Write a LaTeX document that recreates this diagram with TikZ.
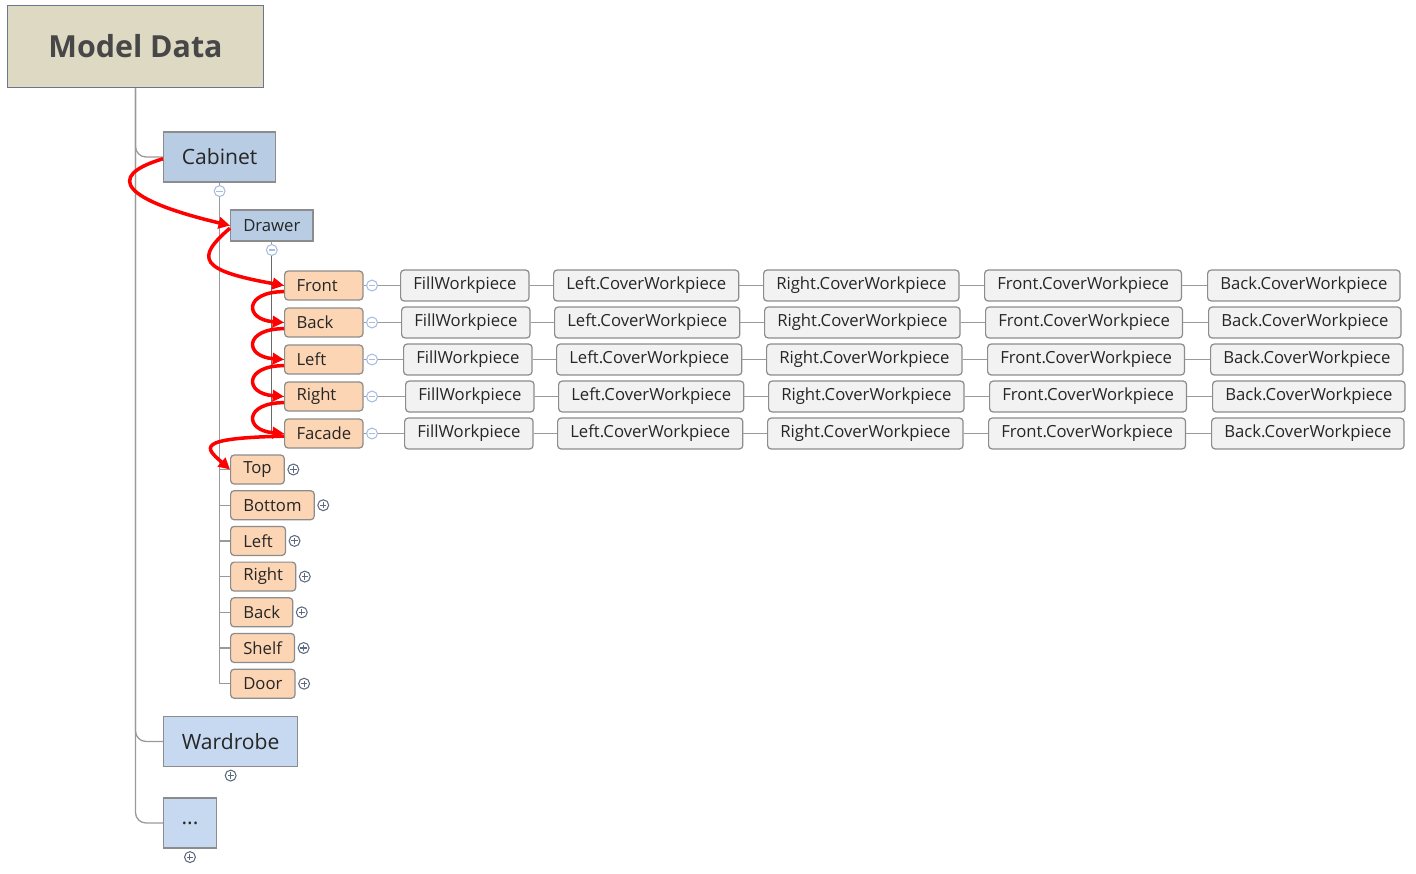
\documentclass[tikz,border=0pt]{standalone}
\usepackage{fontspec}
\setmainfont{Open Sans}
\usetikzlibrary{positioning,arrows.meta}
\definecolor{rootfill}{HTML}{DDD9C3}
\definecolor{rootline}{HTML}{6A7690}
\definecolor{cabfill}{HTML}{B8CCE4}
\definecolor{wardfill}{HTML}{C6D9F0}
\definecolor{partfill}{HTML}{FCD5B4}
\definecolor{workfill}{HTML}{F2F2F2}
\definecolor{boxline}{HTML}{8C8C8C}
\definecolor{treeline}{HTML}{9A9A9A}
\definecolor{darkline}{HTML}{6A6A6A}
\definecolor{foldline}{HTML}{A9BCE0}
\definecolor{unfoldline}{HTML}{5E6A80}
\definecolor{ink}{HTML}{262626}
\newcommand{\partfont}{\fontsize{9.5}{11}\selectfont}
\tikzstyle{root}=[draw=rootline,fill=rootfill,line width=0.8pt,minimum width=145.7pt,minimum height=47pt,font=\fontsize{17.3}{20}\selectfont\bfseries,text=ink!85]
\tikzstyle{group}=[draw=boxline,fill=cabfill,line width=0.7pt,minimum height=28.5pt,inner xsep=10.4pt,font=\fontsize{12}{14}\selectfont,text=ink]
\tikzstyle{sub}=[draw=boxline,fill=cabfill,line width=0.7pt,minimum height=17.6pt,inner xsep=7.2pt,font=\partfont,text=ink]
\tikzstyle{part}=[draw=boxline,fill=partfill,line width=0.7pt,rounded corners=2pt,minimum height=16.5pt,inner xsep=7.2pt,font=\partfont,text=ink]
\tikzstyle{rowpart}=[part,text width=31pt,inner xsep=6.8pt,align=left]
\tikzstyle{work}=[draw=boxline,fill=workfill,line width=0.7pt,rounded corners=2pt,minimum height=17.6pt,inner xsep=7.2pt,font=\partfont,text=ink]
\tikzstyle{tree}=[draw=treeline,line width=0.75pt]
\tikzstyle{flow}=[draw=red,line width=2pt,-{Triangle[length=6.5pt,width=6.5pt]}]
\tikzstyle{fold}=[circle,draw=foldline,fill=white,line width=0.6pt,minimum size=6.2pt,inner sep=0pt,
  path picture={\draw[foldline,line width=0.6pt] ([xshift=-1.8pt]path picture bounding box.center) -- ([xshift=1.8pt]path picture bounding box.center);}]
\tikzstyle{unfold}=[circle,draw=unfoldline,fill=white,line width=0.6pt,minimum size=6.2pt,inner sep=0pt,
  path picture={\draw[unfoldline,line width=0.6pt] ([xshift=-1.8pt]path picture bounding box.center) -- ([xshift=1.8pt]path picture bounding box.center)
    ([yshift=-1.8pt]path picture bounding box.center) -- ([yshift=1.8pt]path picture bounding box.center);}]

\begin{document}
\begin{tikzpicture}[x=0.02cm,y=-0.02cm]
    \useasboundingbox (0,0) rectangle (1416,873);
    % main branch
    \node[root] (model) at (135.5,46.5) {Model Data};
    \node[group,anchor=west] (cabinet) at (163,157) {Cabinet};
    \node[fold,below=1.4pt of cabinet] (cabbtn) {};
    \node[sub,anchor=west] (drawer) at (230,225.5) {Drawer};
    \node[fold,below=1.4pt of drawer] (drawbtn) {};
    \node[group,fill=wardfill,anchor=west] (wardrobe) at (163,741.5) {Wardrobe};
    \node[unfold,below=1.4pt of wardrobe] (wardbtn) {};
    \node[group,fill=wardfill,minimum width=30pt,inner xsep=4pt,anchor=west] (more) at (163,823) {...};
    \node[unfold,below=1.4pt of more] (morebtn) {};
    \path[tree,rounded corners=6pt] (model.south) |- (cabinet.west);
    \path[tree,rounded corners=6pt] (model.south) |- (wardrobe.west);
    \path[tree,rounded corners=6pt] (model.south) |- (more.west);
    \path[tree] (cabinet) -- (cabbtn);
    \path[tree] (cabbtn.south) |- (drawer.west);
    \path[tree] (drawer) -- (drawbtn);

    % drawer parts with their workpieces
    \foreach \part/\y/\s [count=\i] in {Front/285.5/0,Back/322.5/1,Left/359.5/3,Right/396.5/5,Facade/433.5/4}{
        \node[rowpart,anchor=west] (p\i) at (284,\y) {\part};
        \node[fold,right=1.4pt of p\i] (w\i-0) {};
        \path[tree] (p\i) -- (w\i-0);
        \path[tree,draw=darkline] (drawbtn.south) |- (p\i.west);
        \foreach \w/\x [count=\j, remember=\j as \k (initially 0)] in
            {FillWorkpiece/400,Left.CoverWorkpiece/553,Right.CoverWorkpiece/763,Front.CoverWorkpiece/984,Back.CoverWorkpiece/1207}{
            \node[work,anchor=west] (w\i-\j) at (\x+\s,\y) {\w};
            \path[tree] (w\i-\k) -- (w\i-\j);
        }
    }

    % cabinet parts
    \foreach \part [count=\i] in {Top,Bottom,Left,Right,Back,Shelf,Door}{
        \node[part,anchor=west] (q\i) at (230,433.8+35.7*\i) {\part};
        \node[unfold,right=1.4pt of q\i] (qb\i) {};
        \path[tree] (cabbtn.south) |- (q\i.west);
    }

    % order of the workpieces
    \path[flow] ([yshift=-1pt]cabinet.west) .. controls +(-60,18) and +(-105,-25) .. (drawer.west);
    \path[flow] ([yshift=-1.5pt]drawer.west) .. controls +(-35,30) and +(-85,-15) .. (p1.west);
    \foreach \i [count=\j from 2] in {1,...,4}
        \path[flow] ([yshift=-3.5pt]p\i.west) .. controls +(-40,0) and +(-40,-3) .. (p\j.west);
    \path[flow] ([yshift=-1.5pt]p5.west) .. controls +(-90,2) and +(-25,-22) .. (q1.west);
\end{tikzpicture}
\end{document}
